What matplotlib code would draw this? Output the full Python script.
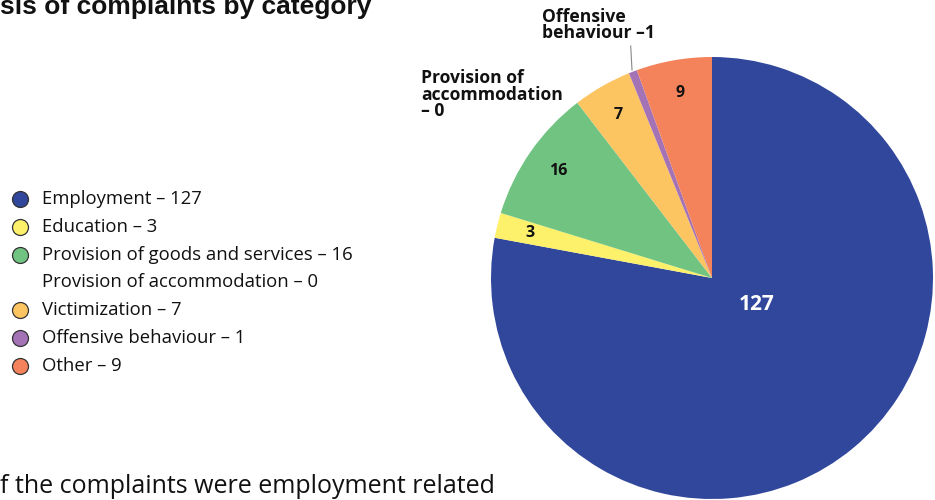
import matplotlib.pyplot as plt
import numpy as np

categories = ['Employment', 'Education', 'Provision of goods and services',
              'Provision of accommodation', 'Victimization', 'Offensive behaviour', 'Other']
counts = [127, 3, 16, 0, 7, 1, 9]
colors = ['#30479b', '#fdf06b', '#71c381', '#ffffff', '#fdc462', '#a473b6', '#f4835b']

title = 'sis of complaints by category'
footnote = 'f the complaints were employment related'

plt.rcParams['font.family'] = ['Open Sans', 'DejaVu Sans']

fig = plt.figure(figsize=(9.35, 5), dpi=100)

# overlay in pixel units for title, legend and notes
bg = fig.add_axes([0, 0, 1, 1])
bg.set_xlim(0, 935)
bg.set_ylim(500, 0)
bg.axis('off')

bg.text(0, 14, title, ha='left', va='baseline', fontsize=19,
        fontweight='bold', family='Liberation Sans', color='#111111')
bg.text(0, 493, footnote, ha='left', va='baseline', fontsize=18, color='#111111')

# legend
for i, (cat, n, c) in enumerate(zip(categories, counts, colors)):
    y = 199 + i * 27.8
    if n > 0:
        bg.plot(20, y, 'o', ms=11.5, mfc=c, mec='#333333', mew=0.9)
    bg.text(42, y, f'{cat} \u2013 {n}', ha='left', va='center', fontsize=13.3, color='#111111')

# pie
ax = fig.add_axes([(712 - 221) / 935, (500 - 278 - 221) / 500, 442 / 935, 442 / 500])
vals = [v for v in counts if v > 0]
cols = [c for v, c in zip(counts, colors) if v > 0]
wedges, _ = ax.pie(vals, colors=cols, startangle=90, counterclock=False, radius=1,
                   wedgeprops=dict(linewidth=0))
ax.set_xlim(-1, 1)
ax.set_ylim(-1, 1)
ax.set_aspect('equal')

for w, v in zip(wedges, vals):
    mid = np.deg2rad((w.theta1 + w.theta2) / 2)
    if v == 1:
        continue
    if v == max(vals):
        ax.text(0.2, -0.12, str(v), ha='center', va='center', fontsize=15,
                fontweight='bold', color='white')
    else:
        ax.text(0.85 * np.cos(mid), 0.85 * np.sin(mid), str(v), ha='center', va='center',
                fontsize=11.5, fontweight='bold', color='#111111')

# outside labels
bg.text(421, 69, 'Provision of\naccommodation\n\u2013 0', ha='left', va='top', fontsize=12.6,
        fontweight='bold', color='#111111', linespacing=0.9)
bg.text(542, 8, 'Offensive\nbehaviour \u20131', ha='left', va='top', fontsize=12.6,
        fontweight='bold', color='#111111', linespacing=0.85)
bg.plot([630.7, 632], [46, 70], color='#888888', lw=0.8)

fig.savefig('out.png', dpi=100)
